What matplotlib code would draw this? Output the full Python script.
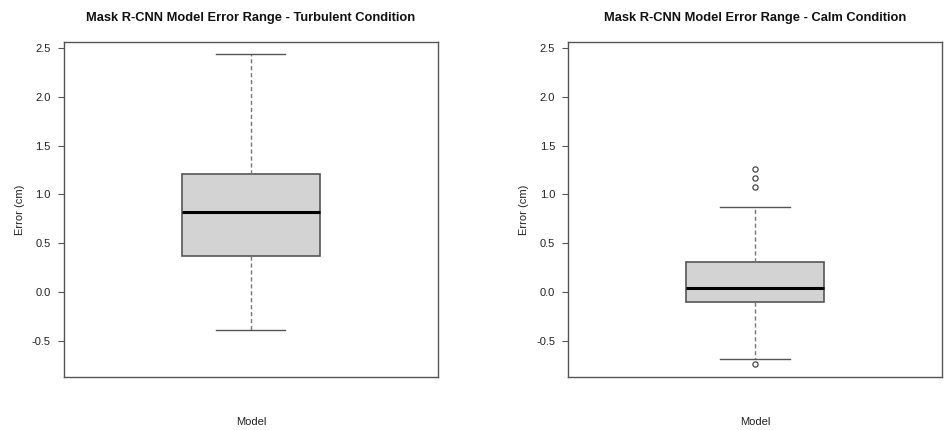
import matplotlib
matplotlib.use("Agg")
import matplotlib.pyplot as plt

plt.rcParams["font.family"] = ["Liberation Sans", "DejaVu Sans"]

# Summary statistics of the error (cm) for each condition
titles = ["Mask R-CNN Model Error Range - Turbulent Condition",
          "Mask R-CNN Model Error Range - Calm Condition"]
q1_vals = [0.365, -0.099]
median_vals = [0.819, 0.044]
q3_vals = [1.208, 0.310]
whisker_low = [-0.389, -0.689]
whisker_high = [2.433, 0.870]
outliers = [[], [1.262, 1.167, 1.071, -0.740]]

y_ticks = [-0.5, 0.0, 0.5, 1.0, 1.5, 2.0, 2.5]
y_tick_labels = ["-0.5", "0.0", "0.5", "1.0", "1.5", "2.0", "2.5"]

fig = plt.figure(figsize=(9.45, 4.30), dpi=100)
positions = [[0.0677, 0.1240, 0.3955, 0.7783],
             [0.6014, 0.1240, 0.3951, 0.7783]]

frame_col = "#555555"
all_vals = [v for i in range(2) for v in [whisker_low[i], whisker_high[i], *outliers[i]]]
lo, hi = min(all_vals), max(all_vals)
pad = 0.04 * (hi - lo)

for i in range(2):
    ax = fig.add_axes(positions[i])
    stats = [{
        "med": median_vals[i],
        "q1": q1_vals[i],
        "q3": q3_vals[i],
        "whislo": whisker_low[i],
        "whishi": whisker_high[i],
        "fliers": outliers[i],
    }]
    ax.bxp(stats, positions=[1], widths=0.4, patch_artist=True,
           boxprops=dict(facecolor="#d3d3d3", edgecolor="#555555", linewidth=1.2),
           medianprops=dict(color="black", linewidth=2.2, solid_capstyle="butt"),
           whiskerprops=dict(color="#777777", linewidth=1.0, linestyle=(0, (3, 2))),
           capprops=dict(color="#555555", linewidth=1.0),
           capwidths=0.2,
           flierprops=dict(marker="o", markersize=3.8, markerfacecolor="none",
                           markeredgecolor="#333333", markeredgewidth=0.8))
    ax.set_xlim(0.46, 1.54)
    ax.set_ylim(lo - pad, hi + pad)
    ax.set_xticks([])
    ax.set_yticks(y_ticks)
    ax.set_yticklabels(y_tick_labels)
    ax.tick_params(axis="y", length=4.5, width=0.8, color=frame_col,
                   labelsize=8, labelcolor="#222222", pad=5)
    for s in ax.spines.values():
        s.set_color(frame_col)
        s.set_linewidth(1.0)
    ax.set_title(titles[i], fontsize=9.3, fontweight="bold", pad=15, color="#111111")
    ax.set_ylabel("Error (cm)", fontsize=8, color="#222222", labelpad=5)
    ax.set_xlabel("Model", fontsize=8, color="#222222", labelpad=29)

fig.savefig("out.png", dpi=100)
